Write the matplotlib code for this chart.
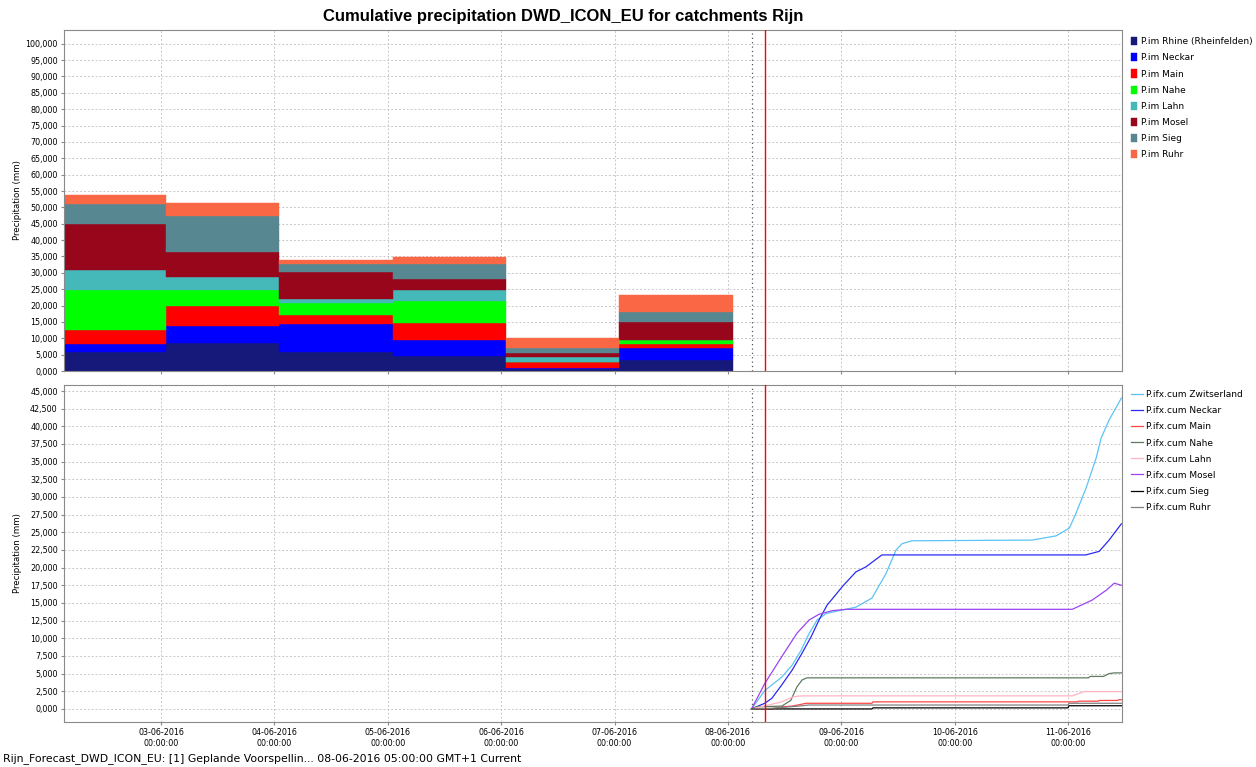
import numpy as np
import matplotlib
matplotlib.use("Agg")
import matplotlib.pyplot as plt
import matplotlib.dates as mdates
from datetime import datetime, timedelta

# ---- data -------------------------------------------------------------
# daily precipitation per catchment (mm), bars start 02-06 .. 07-06 01:00
bar_starts = ["2016-06-02 01:00", "2016-06-03 01:00", "2016-06-04 01:00",
              "2016-06-05 01:00", "2016-06-06 01:00", "2016-06-07 01:00"]
bar_names = ["P.im Rhine (Rheinfelden)", "P.im Neckar", "P.im Main", "P.im Nahe",
             "P.im Lahn", "P.im Mosel", "P.im Sieg", "P.im Ruhr"]
rhine = [5.8, 8.55, 5.9, 4.6, 0.5, 3.4]
neckar = [2.55, 5.2, 8.6, 4.8, 0.4, 3.7]
main = [4.15, 6.2, 2.5, 5.4, 1.75, 1.05]
nahe = [12.1, 4.8, 3.8, 6.5, 0.05, 1.25]
lahn = [6.15, 3.95, 1.2, 3.3, 1.6, 0.05]
mosel = [14.25, 7.8, 8.1, 3.5, 1.1, 5.65]
sieg = [5.9, 10.75, 2.6, 4.6, 1.5, 2.8]
ruhr = [2.8, 4.15, 1.1, 2.0, 3.1, 5.4]
bar_colors = ["#16197A", "#0000FF", "#FF0000", "#00FF00",
              "#45B8BA", "#98061B", "#578891", "#F96744"]

# cumulative forecast (mm), hours after 08-06-2016 00:00
zwi_h = [5, 7.8, 11.4, 13.6, 15.5, 17.2, 18.9, 20.8, 23.5, 27.1, 30.5, 33.5, 35.6,
         36.9, 39.0, 64.4, 69.5, 72.3, 73.7, 75.9, 78.0, 79.0, 80.7, 83.3]
zwi_v = [0, 2.6, 4.5, 6.2, 8.3, 10.7, 12.6, 13.5, 13.9, 14.4, 15.7, 19.2, 22.5,
         23.4, 23.8, 23.9, 24.5, 25.6, 27.7, 31.4, 35.6, 38.3, 40.9, 44.0]
nec_h = [5, 7.8, 9.3, 11.4, 13.6, 15.7, 17.6, 19.3, 21.0, 22.5, 24.2, 27.1, 29.2,
         32.6, 75.8, 78.6, 80.7, 83.3]
nec_v = [0, 0.8, 1.5, 3.4, 5.5, 7.9, 10.2, 12.6, 14.7, 15.9, 17.3, 19.4, 20.1,
         21.8, 21.8, 22.3, 23.9, 26.2]
main_h = [5, 9.3, 11.4, 13.6, 15.5, 16.5, 30.5, 30.7, 74.0, 74.2, 78.4, 78.6, 82.5, 82.7, 83.3]
main_v = [0, 0, 0.3, 0.4, 0.65, 0.8, 0.8, 1.0, 1.0, 1.1, 1.1, 1.2, 1.2, 1.3, 1.3]
nahe_h = [5, 6, 11.4, 13.3, 14.6, 15.7, 16.7, 76.3, 76.7, 79.5, 80.7, 81.8, 83.3]
nahe_v = [0, 0.3, 0.4, 1.2, 3.1, 4.1, 4.4, 4.4, 4.6, 4.6, 5.0, 5.1, 5.1]
lahn_h = [5, 11.4, 13.6, 14.6, 16.0, 72.9, 75.4, 83.3]
lahn_v = [0, 1.0, 1.65, 1.8, 1.85, 1.85, 2.45, 2.45]
mos_h = [5, 7.8, 11.4, 14.6, 17.2, 19.3, 22.0, 25.0, 72.9, 77.1, 80.1, 81.8, 83.3]
mos_v = [0, 3.6, 7.4, 10.7, 12.6, 13.4, 13.9, 14.1, 14.1, 15.4, 16.8, 17.8, 17.5]
sieg_h = [5, 30.5, 30.7, 72.0, 72.2, 83.3]
sieg_v = [0, 0, 0.15, 0.15, 0.45, 0.45]
ruhr_h = [5, 9.3, 15.0, 17.0, 72.0, 72.2, 83.3]
ruhr_v = [0, 0.1, 0.4, 0.55, 0.55, 0.8, 0.8]

# ---- figure -----------------------------------------------------------
W, H = 1256, 767
fig = plt.figure(figsize=(W / 100, H / 100), dpi=100)
ax1 = fig.add_axes([64 / W, 1 - 371 / H, (1122 - 64) / W, (371 - 30) / H])
ax2 = fig.add_axes([64 / W, 1 - 722 / H, (1122 - 64) / W, (722 - 385) / H], sharex=ax1)

t0 = datetime(2016, 6, 8)
fc_time = t0 + timedelta(hours=5)
now_time = t0 + timedelta(hours=7.85)

starts = [datetime.strptime(s, "%Y-%m-%d %H:%M") for s in bar_starts]
bottom = np.zeros(len(starts))
for vals, name, col in zip([rhine, neckar, main, nahe, lahn, mosel, sieg, ruhr],
                           bar_names, bar_colors):
    ax1.bar(starts, vals, width=1.0, bottom=bottom, align="edge", color=col,
            edgecolor=col, linewidth=0.3, label=name, zorder=2)
    bottom += np.array(vals)

lines = [("P.ifx.cum Zwitserland", zwi_h, zwi_v, "#5BC3F5"),
         ("P.ifx.cum Neckar", nec_h, nec_v, "#2B2BF0"),
         ("P.ifx.cum Main", main_h, main_v, "#FF4545"),
         ("P.ifx.cum Nahe", nahe_h, nahe_v, "#5F7A5F"),
         ("P.ifx.cum Lahn", lahn_h, lahn_v, "#FFB4C4"),
         ("P.ifx.cum Mosel", mos_h, mos_v, "#9B45F0"),
         ("P.ifx.cum Sieg", sieg_h, sieg_v, "#000000"),
         ("P.ifx.cum Ruhr", ruhr_h, ruhr_v, "#808080")]
for name, hh, vv, col in lines:
    tt = [t0 + timedelta(hours=h) for h in hh]
    ax2.plot(tt, vv, color=col, lw=0.9, label=name, zorder=3)

def fmt(v, pos):
    return ("%.3f" % v).replace(".", ",")

small = 5.8
for ax, ymax, ylim in [(ax1, 100, (0, 104.2)), (ax2, 45, (-1.85, 45.85))]:
    ax.set_ylim(*ylim)
    step = 5 if ax is ax1 else 2.5
    ax.set_yticks(np.arange(0, ymax + 0.01, step))
    ax.yaxis.set_major_formatter(plt.FuncFormatter(fmt))
    ax.grid(True, color="#C8C8C8", linestyle=(0, (2, 2)), lw=0.7, zorder=0)
    ax.set_axisbelow(True)
    for s in ax.spines.values():
        s.set_color("#8A8A8A")
    ax.tick_params(labelsize=small, length=2.5, color="#8A8A8A", pad=2)
    ax.set_ylabel("Precipitation (mm)", fontsize=6.2)
    ax.yaxis.set_label_coords(-0.040, 0.5)
    ax.axvline(fc_time, color="#555555", lw=0.9, linestyle=(0, (1, 2.5)), zorder=4)
    ax.axvline(now_time, color="#FF0000", lw=1.0, zorder=4)

ax1.set_xlim(datetime(2016, 6, 2, 3, 26), datetime(2016, 6, 11, 11, 26))
ax2.xaxis.set_major_locator(mdates.DayLocator())
ax2.xaxis.set_major_formatter(mdates.DateFormatter("%d-%m-%Y\n%H:%M:%S"))
plt.setp(ax1.get_xticklabels(), visible=False)
for lab in ax2.get_xticklabels():
    lab.set_horizontalalignment("center")

ax1.legend(loc="upper left", bbox_to_anchor=(1.003, 0.995), frameon=False,
           fontsize=6.5, handlelength=0.75, handleheight=1.0, handletextpad=0.35,
           labelspacing=0.78, borderaxespad=0.2)
ax2.legend(loc="upper left", bbox_to_anchor=(1.003, 1.0), frameon=False,
           fontsize=6.5, handlelength=1.4, handletextpad=0.3,
           labelspacing=0.78, borderaxespad=0.2)

fig.text(563 / W, 1 - 16 / H, "Cumulative precipitation DWD_ICON_EU for catchments Rijn",
         ha="center", va="center", fontsize=12, fontweight="bold",
         family="Liberation Sans")
fig.text(3 / W, 1 - 759 / H,
         "Rijn_Forecast_DWD_ICON_EU: [1] Geplande Voorspellin... 08-06-2016 05:00:00 GMT+1 Current",
         ha="left", va="center", fontsize=7.8)

fig.savefig("out.png", dpi=100)
